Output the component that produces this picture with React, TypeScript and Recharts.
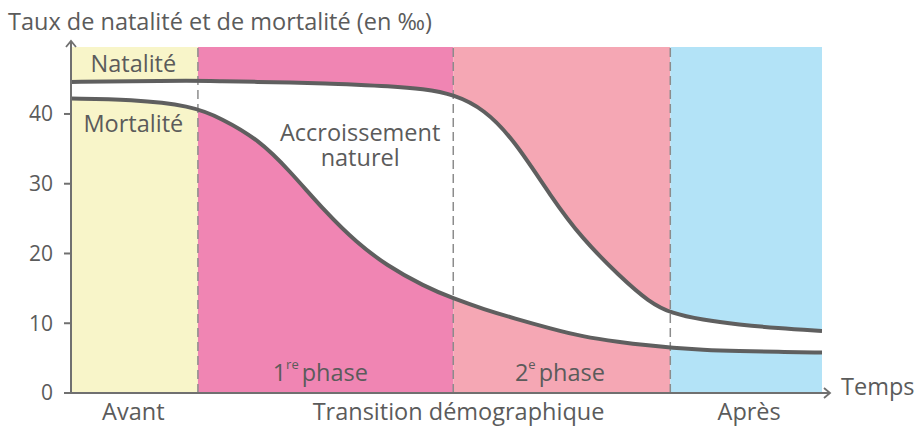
import React from 'react';
import {
  ComposedChart,
  Area,
  Line,
  XAxis,
  YAxis,
  ReferenceArea,
  ReferenceLine,
  ReferenceDot,
} from 'recharts';

// ---------- data ----------
const time = [0, 8, 16, 20, 25, 29, 34, 38, 42, 47, 51, 55, 59, 64, 68, 73, 77, 80, 84, 89, 94, 100];
const natalite = [44.6, 44.7, 44.8, 44.7, 44.6, 44.5, 44.4, 44.2, 44.0, 43.6, 42.8, 40.7, 36.3, 28.0, 22.2, 16.8, 13.0, 11.4, 10.5, 9.8, 9.3, 8.9];
const mortalite = [42.2, 42.1, 41.2, 39.4, 36.3, 32.0, 25.8, 21.6, 18.3, 15.3, 13.5, 12.0, 10.7, 9.2, 8.1, 7.3, 6.8, 6.5, 6.2, 6.0, 5.9, 5.8];

const phaseBounds = [0, 16.9, 50.9, 79.8, 100];
const phaseColors = ['#f8f5c9', '#f085b3', '#f5a7b4', '#b3e3f7'];

const yTicks = [0, 10, 20, 30, 40];
const xTickPositions = [8.3, 51.6, 90.3];
const xTickLabels = ['Avant', 'Transition démographique', 'Après'];

const yTitle = 'Taux de natalité et de mortalité (en ‰)';
const xTitle = 'Temps';

const annotations = [
  { t: 8.3, v: 47.3, lines: ['Natalité'], sup: '', rest: '' },
  { t: 8.3, v: 38.7, lines: ['Mortalité'], sup: '', rest: '' },
  { t: 38.5, v: 35.6, lines: ['Accroissement', 'naturel'], sup: '', rest: '' },
  { t: 33.2, v: 3.0, lines: ['1'], sup: 're', rest: 'phase' },
  { t: 65.1, v: 3.0, lines: ['2'], sup: 'e', rest: 'phase' },
];

const data = time.map((t, i) => ({
  t,
  nat: natalite[i],
  mort: mortalite[i],
  band: [mortalite[i], natalite[i]],
}));

// ---------- style ----------
const FONT = '"Open Sans", "Noto Sans", sans-serif';
const TEXT = '#5b5b5b';
const CURVE = '#5f5f5f';
const AXIS = '#707070';
const Y_MAX = 49.6;
const FS = 23.5;
const LINE_H = 25;

const YTitleAndArrow = (props: any) => {
  const vb = props.viewBox || {};
  const ax = vb.x + vb.width;
  const top = vb.y;
  return (
    <g>
      <line x1={ax} y1={top + 1} x2={ax} y2={top - 6} stroke={AXIS} strokeWidth={2} />
      <path d={`M ${ax - 5} ${top} L ${ax} ${top - 6} L ${ax + 5} ${top}`} fill="none" stroke={AXIS} strokeWidth={1.8} />
      <text x={vb.x - 3} y={top - 17} fill={TEXT} fontSize={FS} fontFamily={FONT} textAnchor="start">
        {yTitle}
      </text>
    </g>
  );
};

const XTitleAndArrow = (props: any) => {
  const vb = props.viewBox || {};
  const ax = vb.x + vb.width;
  const ay = vb.y;
  return (
    <g>
      <line x1={ax - 1} y1={ay} x2={ax + 8} y2={ay} stroke={AXIS} strokeWidth={2} />
      <path d={`M ${ax + 2} ${ay - 5} L ${ax + 8} ${ay} L ${ax + 2} ${ay + 5}`} fill="none" stroke={AXIS} strokeWidth={1.8} />
      <text x={ax + 19} y={ay + 2} fill={TEXT} fontSize={FS} fontFamily={FONT} textAnchor="start">
        {xTitle}
      </text>
    </g>
  );
};

const annoContent = (a: any) => (props: any) => {
  const vb = props.viewBox || {};
  const cx = vb.x + (vb.width || 0) / 2;
  const cy = vb.y + (vb.height || 0) / 2;
  const n = a.lines.length;
  const y0 = cy - ((n - 1) * LINE_H) / 2;
  return (
    <text x={cx} y={y0} textAnchor="middle" dominantBaseline="central" fill={TEXT} fontSize={FS} fontFamily={FONT}>
      {a.lines.map((l: string, i: number) => (
        <tspan key={i} x={cx} dy={i === 0 ? 0 : LINE_H}>
          {l}
        </tspan>
      ))}
      {a.sup ? (
        <tspan fontSize={13} dy={-8}>
          {a.sup}
        </tspan>
      ) : null}
      {a.rest ? (
        <tspan dy={8} dx={3}>
          {a.rest}
        </tspan>
      ) : null}
    </text>
  );
};

export default function App() {
  return (
    <div style={{ position: 'absolute', left: 0, top: 0, width: 918, height: 426, background: '#fff' }}>
      <ComposedChart
        width={918}
        height={426}
        data={data}
        margin={{ top: 47, right: 96, bottom: 3, left: 11 }}
        style={{ fontFamily: FONT }}
      >
        <XAxis
          type="number"
          dataKey="t"
          domain={[0, 100]}
          ticks={xTickPositions}
          interval={0}
          tickFormatter={(v: number) => xTickLabels[xTickPositions.indexOf(v)] ?? ''}
          tickLine={false}
          tickSize={6}
          tickMargin={4}
          axisLine={{ stroke: AXIS, strokeWidth: 2 }}
          tick={{ fill: TEXT, fontSize: FS, fontFamily: FONT }}
          height={30}
          allowDataOverflow
          label={{ content: XTitleAndArrow }}
        />
        <YAxis
          type="number"
          domain={[0, Y_MAX]}
          ticks={yTicks}
          interval={0}
          width={60}
          tickSize={7}
          tickMargin={11}
          allowDataOverflow
          axisLine={{ stroke: AXIS, strokeWidth: 2 }}
          tickLine={{ stroke: AXIS, strokeWidth: 2 }}
          tick={{ fill: TEXT, fontSize: 21, fontFamily: FONT }}
          label={{ content: YTitleAndArrow }}
        />
        {phaseColors.map((c, i) => (
          <ReferenceArea
            key={`pa${i}`}
            x1={phaseBounds[i]}
            x2={phaseBounds[i + 1]}
            y1={0}
            y2={Y_MAX}
            fill={c}
            fillOpacity={1}
            stroke="none"
            {...({ zIndex: -50 } as any)}
          />
        ))}
        <Area
          dataKey="band"
          type="basis"
          fill="#ffffff"
          fillOpacity={1}
          stroke="none"
          isAnimationActive={false}
          activeDot={false}
        />
        {phaseBounds.slice(1, 4).map((b, i) => (
          <ReferenceLine
            key={`rl${i}`}
            x={b}
            stroke="#8c8c8c"
            strokeWidth={1.5}
            strokeDasharray="9 5"
            {...({ zIndex: 200 } as any)}
          />
        ))}
        <Line dataKey="nat" type="basis" stroke={CURVE} strokeWidth={4} dot={false} activeDot={false} isAnimationActive={false} />
        <Line dataKey="mort" type="basis" stroke={CURVE} strokeWidth={4} dot={false} activeDot={false} isAnimationActive={false} />
        {annotations.map((a, i) => (
          <ReferenceDot
            key={`an${i}`}
            x={a.t}
            y={a.v}
            r={1}
            fill="none"
            stroke="none"
            label={{ content: annoContent(a) }}
          />
        ))}
      </ComposedChart>
    </div>
  );
}
